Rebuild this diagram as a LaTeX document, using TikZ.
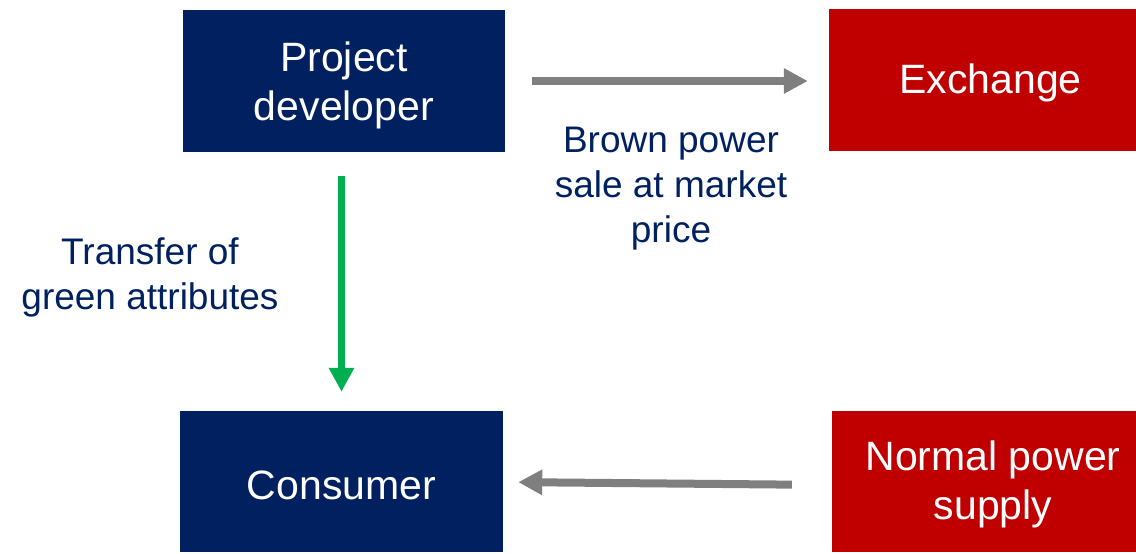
\documentclass[tikz,border=0pt]{standalone}
\usepackage{fontspec}
\setmainfont{Liberation Sans}
\usetikzlibrary{arrows.meta,calc}
\definecolor{navy}{HTML}{002060}
\definecolor{darkred}{HTML}{C00000}
\definecolor{flowgray}{HTML}{7F7F7F}
\definecolor{flowgreen}{HTML}{00B050}
\begin{document}
\begin{tikzpicture}[x=1pt,y=-1pt,
  box/.style={rectangle,inner sep=0pt},
  bluebox/.style={box,fill=navy},
  redbox/.style={box,fill=darkred},
  boxtext/.style={align=center,text=white,inner sep=0pt,
    font=\fontsize{41}{49}\selectfont},
  label/.style={align=center,text=navy,font=\fontsize{37}{45}\selectfont},
  flow/.style={line width=8pt,draw=flowgray,-{Triangle[width=24pt,length=24pt]}},
  greenflow/.style={line width=7pt,draw=flowgreen,-{Triangle[width=24pt,length=24pt]}}]
\useasboundingbox (0,0) rectangle (1136,554);
% boxes
\node[bluebox,minimum width=322pt,minimum height=142pt] (pd) at (344,81) {};
\node[redbox,minimum width=307pt,minimum height=142pt] (ex) at (982.5,80) {};
\node[bluebox,minimum width=323pt,minimum height=141pt] (cons) at (341.5,481.5) {};
\node[redbox,minimum width=304pt,minimum height=141pt] (nps) at (984,481.5) {};
% box captions
\node[boxtext] (pdt) at ($(pd.center)+(0,4)$) {Project\\developer};
\node[boxtext] (ext) at ($(ex.center)+(8,3)$) {Exchange};
\node[boxtext] (const) at ($(cons.center)+(0,4)$) {Consumer};
\node[boxtext] (npst) at ($(nps.center)+(9,3)$) {Normal power\\supply};
% labels
\node[label] (lbrown) at (671,189) {Brown power\\sale at market\\price};
\node[label] (lgreen) at (150,277) {Transfer of\\green attributes};
% flows
\draw[flow,shorten <=27pt,shorten >=21pt] (pd.east) -- (pd.east -| ex.west);
\draw[greenflow,shorten <=24pt,shorten >=19pt] (pd.south -| cons.north) -- (cons.north);
\draw[flow,shorten <=40pt,shorten >=15pt] ($(nps.west)+(0,3.5)$) -- ($(cons.east)+(0,0.5)$);
\end{tikzpicture}
\end{document}
